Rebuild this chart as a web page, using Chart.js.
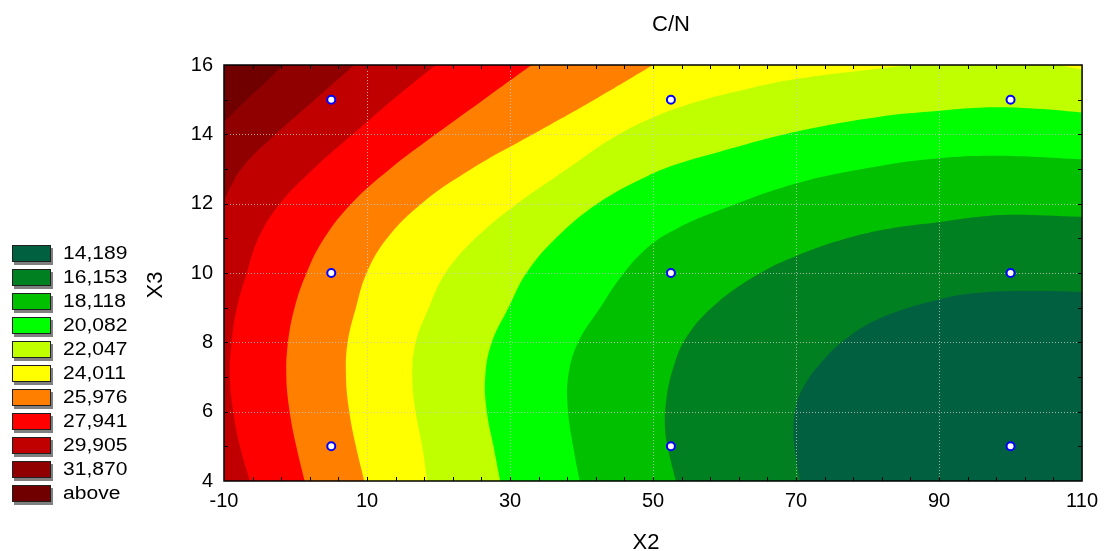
<!DOCTYPE html>
<html>
<head>
<meta charset="utf-8">
<script src="https://cdn.jsdelivr.net/npm/chart.js"></script>
<style>
  body { margin: 0; background: #fff; }
</style>
</head>
<body>
<canvas id="contour" width="1106" height="551"></canvas>
<script>
const X_MIN = -10, X_MAX = 110, Y_MIN = 4, Y_MAX = 16;
const xTicks = [-10, 10, 30, 50, 70, 90, 110];
const yTicks = [4, 6, 8, 10, 12, 14, 16];

const levelLabels = ['14,189', '16,153', '18,118', '20,082', '22,047', '24,011',
                     '25,976', '27,941', '29,905', '31,870', 'above'];
const bandColors = ['#006040', '#008020', '#00c000', '#00ff00', '#c0ff00', '#ffff00',
                    '#ff8000', '#ff0000', '#c00000', '#900000', '#700000'];

// design points (X2, X3)
const designX = [5, 52.5, 100];
const designY = [5, 10, 15];

// contour lines [X2, X3],
// each one running from the bottom/left edge to the top/right edge
const line14189 = [[70.58, 4], [70.12, 4.51], [69.66, 5.28], [69.89, 6.05], [71.05, 6.72], [73.83, 7.49],
  [77.07, 8.12], [81.7, 8.69], [90.05, 9.24], [95.6, 9.43], [102, 9.48], [110, 9.46]];
const line16153 = [[53.19, 4], [52.03, 4.99], [51.66, 5.57], [51.8, 6.24], [52.73, 7.2], [54.7, 8.16],
  [58.9, 9.13], [65, 10], [70.1, 10.5], [77.07, 11], [83, 11.28], [90.05, 11.47],
  [95.6, 11.62], [100.25, 11.68], [110, 11.62]];
const line18118 = [[39.74, 4], [38.82, 5], [38.12, 6], [38.12, 7], [39.51, 8], [42.6, 9], [45.9, 10],
  [49.6, 10.8], [53.5, 11.3], [58.5, 11.75], [70.1, 12.59], [81.7, 13.09], [90.05, 13.31],
  [97.9, 13.38], [110, 13.28]];
const line20082 = [[28.62, 4], [27.69, 5], [26.76, 6], [26.53, 7], [27.46, 8], [29.78, 9], [32.3, 10],
  [36.4, 11], [42.2, 12], [49.25, 12.8], [53.5, 13.15], [58.5, 13.45], [70.1, 14.08], [81.7, 14.51],
  [90.05, 14.68], [95.6, 14.77], [102.56, 14.75], [110, 14.63]];
const line22047 = [[18.42, 4], [17.72, 5], [16.8, 6], [16.33, 7], [16.8, 8], [18.65, 9], [20.97, 10],
  [25.14, 11], [31, 12], [38, 13], [44, 13.85], [49.6, 14.45], [56, 14.93], [63, 15.3], [70.1, 15.6],
  [81.7, 15.9], [86.3, 16], [95, 16.12], [103, 16.1], [110, 15.87]];
const line24011 = [[9.61, 4], [8.45, 5], [7.52, 6], [7.06, 7], [7.29, 8], [8.45, 9], [9.95, 10],
  [12.8, 11], [17.6, 12], [24.6, 13], [33.2, 14], [41.8, 15], [50, 16]];
const line25976 = [[1.27, 4], [0.11, 5], [-0.82, 6], [-1.28, 7], [-1.05, 8], [-0.13, 9], [1.55, 10],
  [4, 11], [7.8, 12], [13.2, 13], [19.6, 14], [26.3, 15], [33, 16]];
const line27941 = [[-6.38, 4], [-7.77, 5], [-8.7, 6], [-9.17, 7], [-8.93, 8], [-8.2, 9], [-6.8, 10],
  [-5.2, 11], [-2.2, 12], [2.5, 13], [8, 14], [13.6, 15], [19.6, 16]];
const line29905 = [[-10, 12.1], [-7.6, 13], [-2.8, 14], [2.7, 15], [8.2, 16]];
const line31870 = [[-10, 14.35], [-6.85, 15], [-4.2, 15.5], [-1.75, 16]];

const contourLines = [line14189, line16153, line18118, line20082, line22047,
                      line24011, line25976, line27941, line29905, line31870];

// close a line into the region above/left of it (higher values);
// the extra corners lie outside the plot and get clipped
function closeRegion(pts) {
  const n = pts.length;
  const first = pts[0], last = pts[n - 1], prev = pts[n - 2];
  const ext = [2 * last[0] - prev[0], 2 * last[1] - prev[1]];
  const top = Y_MAX + 4, bottom = Y_MIN - 2, left = X_MIN - 10;
  return [...pts, ext, [ext[0], top], [left, top], [left, bottom], [first[0], bottom]];
}

const datasets = [{
  label: 'design',
  data: designX.flatMap(x => designY.map(y => ({x, y}))),
  pointRadius: 4,
  pointBackgroundColor: '#ffffff',
  pointBorderColor: '#0000ff',
  pointBorderWidth: 2,
  order: 0
}];
contourLines.forEach((pts, i) => {
  datasets.push({
    label: levelLabels[i],
    data: closeRegion(pts).map(([x, y]) => ({x, y})),
    showLine: true,
    fill: 'shape',
    backgroundColor: bandColors[i + 1],
    borderColor: 'transparent',
    borderWidth: 0,
    pointRadius: 0,
    tension: 0.4,
    capBezierPoints: false,
    order: contourLines.length - i
  });
});

const FONT = 'Liberation Sans, Arial, sans-serif';

const decor = {
  id: 'decor',
  beforeDatasetsDraw(chart) {
    const {ctx, chartArea: a} = chart;
    ctx.save();
    ctx.fillStyle = bandColors[0];
    ctx.fillRect(a.left, a.top, a.right - a.left, a.bottom - a.top);
    ctx.restore();
  },
  beforeDatasetDraw(chart, args) {
    if (args.index !== 0) return;
    // dotted grid above the bands, below the design points
    const {ctx, chartArea: a, scales: {x, y}} = chart;
    ctx.save();
    ctx.strokeStyle = 'rgba(200,200,200,0.8)';
    ctx.lineWidth = 1;
    ctx.setLineDash([1, 2]);
    ctx.beginPath();
    xTicks.slice(1, -1).forEach(v => {
      const px = Math.round(x.getPixelForValue(v)) + 0.5;
      ctx.moveTo(px, a.top); ctx.lineTo(px, a.bottom);
    });
    yTicks.slice(1, -1).forEach(v => {
      const py = Math.round(y.getPixelForValue(v)) + 0.5;
      ctx.moveTo(a.left, py); ctx.lineTo(a.right, py);
    });
    ctx.stroke();
    ctx.restore();
  },
  afterDraw(chart) {
    const {ctx, chartArea: a, scales: {x, y}} = chart;
    ctx.save();
    // frame
    ctx.strokeStyle = '#000';
    ctx.lineWidth = 1.5;
    ctx.strokeRect(a.left, a.top, a.right - a.left, a.bottom - a.top);
    // inward tick marks
    ctx.lineWidth = 1;
    ctx.beginPath();
    for (let v = X_MIN + 4; v < X_MAX; v += 4) {
      const px = Math.round(x.getPixelForValue(v)) + 0.5;
      ctx.moveTo(px, a.bottom); ctx.lineTo(px, a.bottom - 4);
      ctx.moveTo(px, a.top); ctx.lineTo(px, a.top + 4);
    }
    for (let v = Y_MIN + 1; v < Y_MAX; v += 1) {
      const py = Math.round(y.getPixelForValue(v)) + 0.5;
      ctx.moveTo(a.left, py); ctx.lineTo(a.left + 4, py);
      ctx.moveTo(a.right, py); ctx.lineTo(a.right - 4, py);
    }
    ctx.stroke();

    // titles
    ctx.fillStyle = '#000';
    ctx.font = '22px ' + FONT;
    ctx.textAlign = 'center';
    ctx.textBaseline = 'middle';
    ctx.fillText('C/N', 671, 25);
    ctx.fillText('X2', 646, 543);
    ctx.save();
    ctx.translate(156, 285);
    ctx.rotate(-Math.PI / 2);
    ctx.fillText('X3', 0, 0);
    ctx.restore();

    // legend
    levelLabels.forEach((lab, i) => {
      const top = 245 + i * 24;
      ctx.fillStyle = '#808080';
      ctx.fillRect(14, top + 3, 39, 17);
      ctx.fillStyle = bandColors[i];
      ctx.fillRect(12, top, 39, 17);
      ctx.strokeStyle = '#202020';
      ctx.lineWidth = 1;
      ctx.strokeRect(12.5, top + 0.5, 38, 16);
      ctx.save();
      ctx.translate(63, top + 9);
      ctx.scale(1.17, 1);
      ctx.fillStyle = '#000';
      ctx.font = '18px ' + FONT;
      ctx.textAlign = 'left';
      ctx.fillText(lab, 0, 0);
      ctx.restore();
    });
    ctx.restore();
  }
};

new Chart(document.getElementById('contour'), {
  type: 'scatter',
  data: {datasets},
  options: {
    responsive: false,
    animation: false,
    events: [],
    layout: {padding: {left: 0, top: 65, right: 19, bottom: 0}},
    plugins: {legend: {display: false}, tooltip: {enabled: false}},
    scales: {
      x: {
        type: 'linear', min: X_MIN, max: X_MAX,
        afterBuildTicks: s => { s.ticks = xTicks.map(v => ({value: v})); },
        afterFit: s => { s.height = 70; },
        grid: {display: false, drawTicks: false},
        border: {display: false},
        ticks: {color: '#000', font: {family: FONT, size: 20}, padding: 8, maxRotation: 0, autoSkip: false}
      },
      y: {
        type: 'linear', min: Y_MIN, max: Y_MAX,
        afterBuildTicks: s => { s.ticks = yTicks.map(v => ({value: v})); },
        afterFit: s => { s.width = 224; },
        grid: {display: false, drawTicks: false},
        border: {display: false},
        ticks: {color: '#000', font: {family: FONT, size: 20}, padding: 11, autoSkip: false}
      }
    }
  },
  plugins: [decor]
});
</script>
</body>
</html>
